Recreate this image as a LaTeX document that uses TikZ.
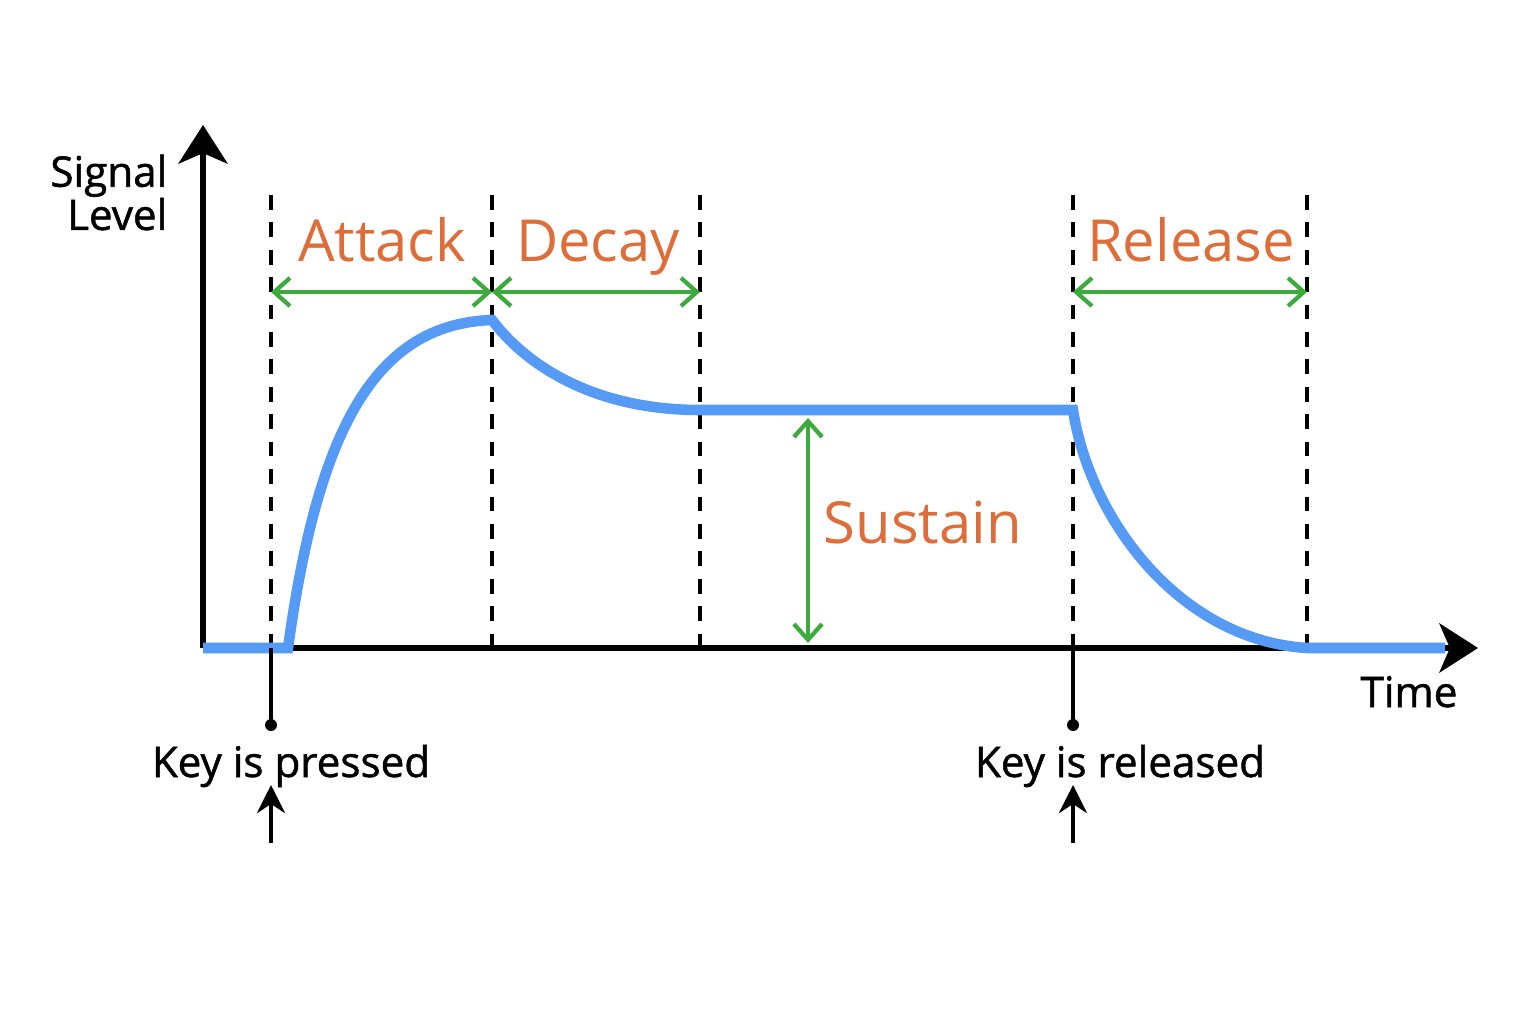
\documentclass[tikz,border=0pt]{standalone}
\usepackage{fontspec}
\setmainfont{Open Sans}
\newfontfamily\capfont[FakeBold=1.2]{Open Sans}
\usetikzlibrary{arrows.meta,positioning,calc}
\definecolor{envblue}{RGB}{85,155,245}
\definecolor{stagegreen}{RGB}{60,170,60}
\definecolor{stageorange}{RGB}{221,110,58}

\begin{document}
\begin{tikzpicture}[
    axis/.style={line width=1.5pt,-{Stealth[length=11pt,width=14pt,inset=3pt]}},
    marker/.style={line width=1.2pt,dash pattern=on 4.2pt off 3.6pt},
    span/.style={stagegreen,line width=1.2pt,{Straight Barb[length=4.5pt,width=8pt]}-{Straight Barb[length=4.5pt,width=8pt]}},
    stage/.style={text=stageorange,font=\fontsize{16.5}{20}\selectfont,inner sep=0pt},
    caption/.style={font=\capfont\fontsize{12}{12.3}\selectfont,inner sep=0pt},
    keyarrow/.style={line width=1.2pt,-{Stealth[length=8pt,width=8pt]}}
  ]
  \useasboundingbox (0,0) rectangle (15.36,10.24);
  % axes
  \coordinate (o) at (2.03,3.76);
  \coordinate (ytip) at (2.03,8.99);
  \coordinate (xtip) at (14.78,3.76);
  \draw[axis] (o) -- (ytip);
  \draw[axis] (o) -- (xtip);
  \node[caption,anchor=north east,align=right] (ylab) at (1.68,8.70) {Signal\\Level};
  \node[caption,anchor=base] (xlab) at (14.09,3.17) {Time};
  % stage boundaries
  \foreach \name/\x in {press/2.71,peak/4.92,sus/7.00,rel/10.73,off/13.07}{
    \coordinate (\name-top) at (\x,8.29);
    \coordinate (\name-bot) at (\x,3.76);
    \coordinate (\name-span) at (\x,7.32);
    \draw[marker] (\name-top) -- (\name-bot);
  }
  % envelope
  \coordinate (start) at (2.88,3.76);
  \coordinate (top) at (4.92,7.04);
  \coordinate (hold) at (7.00,6.14);
  \coordinate (drop) at (10.73,6.14);
  \coordinate (zero) at (13.07,3.76);
  \coordinate (end) at (14.45,3.76);
  \draw[envblue,line width=3pt] (o) -- (start)
    .. controls (3.18,5.95) and (3.75,7.00) .. (top)
    .. controls (5.30,6.54) and (6.00,6.14) .. (hold) -- (drop)
    .. controls (10.90,5.04) and (11.80,3.84) .. (zero) -- (end);
  % spans
  \draw[span] (press-span) -- (peak-span);
  \draw[span] (peak-span) -- (sus-span);
  \draw[span] (rel-span) -- (off-span);
  \coordinate (lvl-top) at (8.08,6.06);
  \coordinate (lvl-bot) at (8.08,3.81);
  \draw[span] (lvl-top) -- (lvl-bot);
  \node[stage,anchor=base] (attack) at (3.82,7.62) {Attack};
  \node[stage,anchor=base] (decay) at (5.98,7.62) {Decay};
  \node[stage,anchor=base] (release) at (11.91,7.62) {Release};
  \node[stage,anchor=base west] (sustain) at (8.23,4.81) {Sustain};
  % key events
  \foreach \name/\x in {press/2.71,rel/10.73}{
    \coordinate (\name-dot) at (\x,2.99);
    \coordinate (\name-from) at (\x,1.81);
    \coordinate (\name-to) at (\x,2.39);
    \draw[line width=1.3pt] (\name-bot) -- (\name-dot);
    \fill (\name-dot) circle (0.06);
    \draw[keyarrow] (\name-from) -- (\name-to);
  }
  \node[caption,anchor=base] (pressed) at (2.91,2.47) {Key is pressed};
  \node[caption,anchor=base] (released) at (11.20,2.47) {Key is released};
\end{tikzpicture}
\end{document}
